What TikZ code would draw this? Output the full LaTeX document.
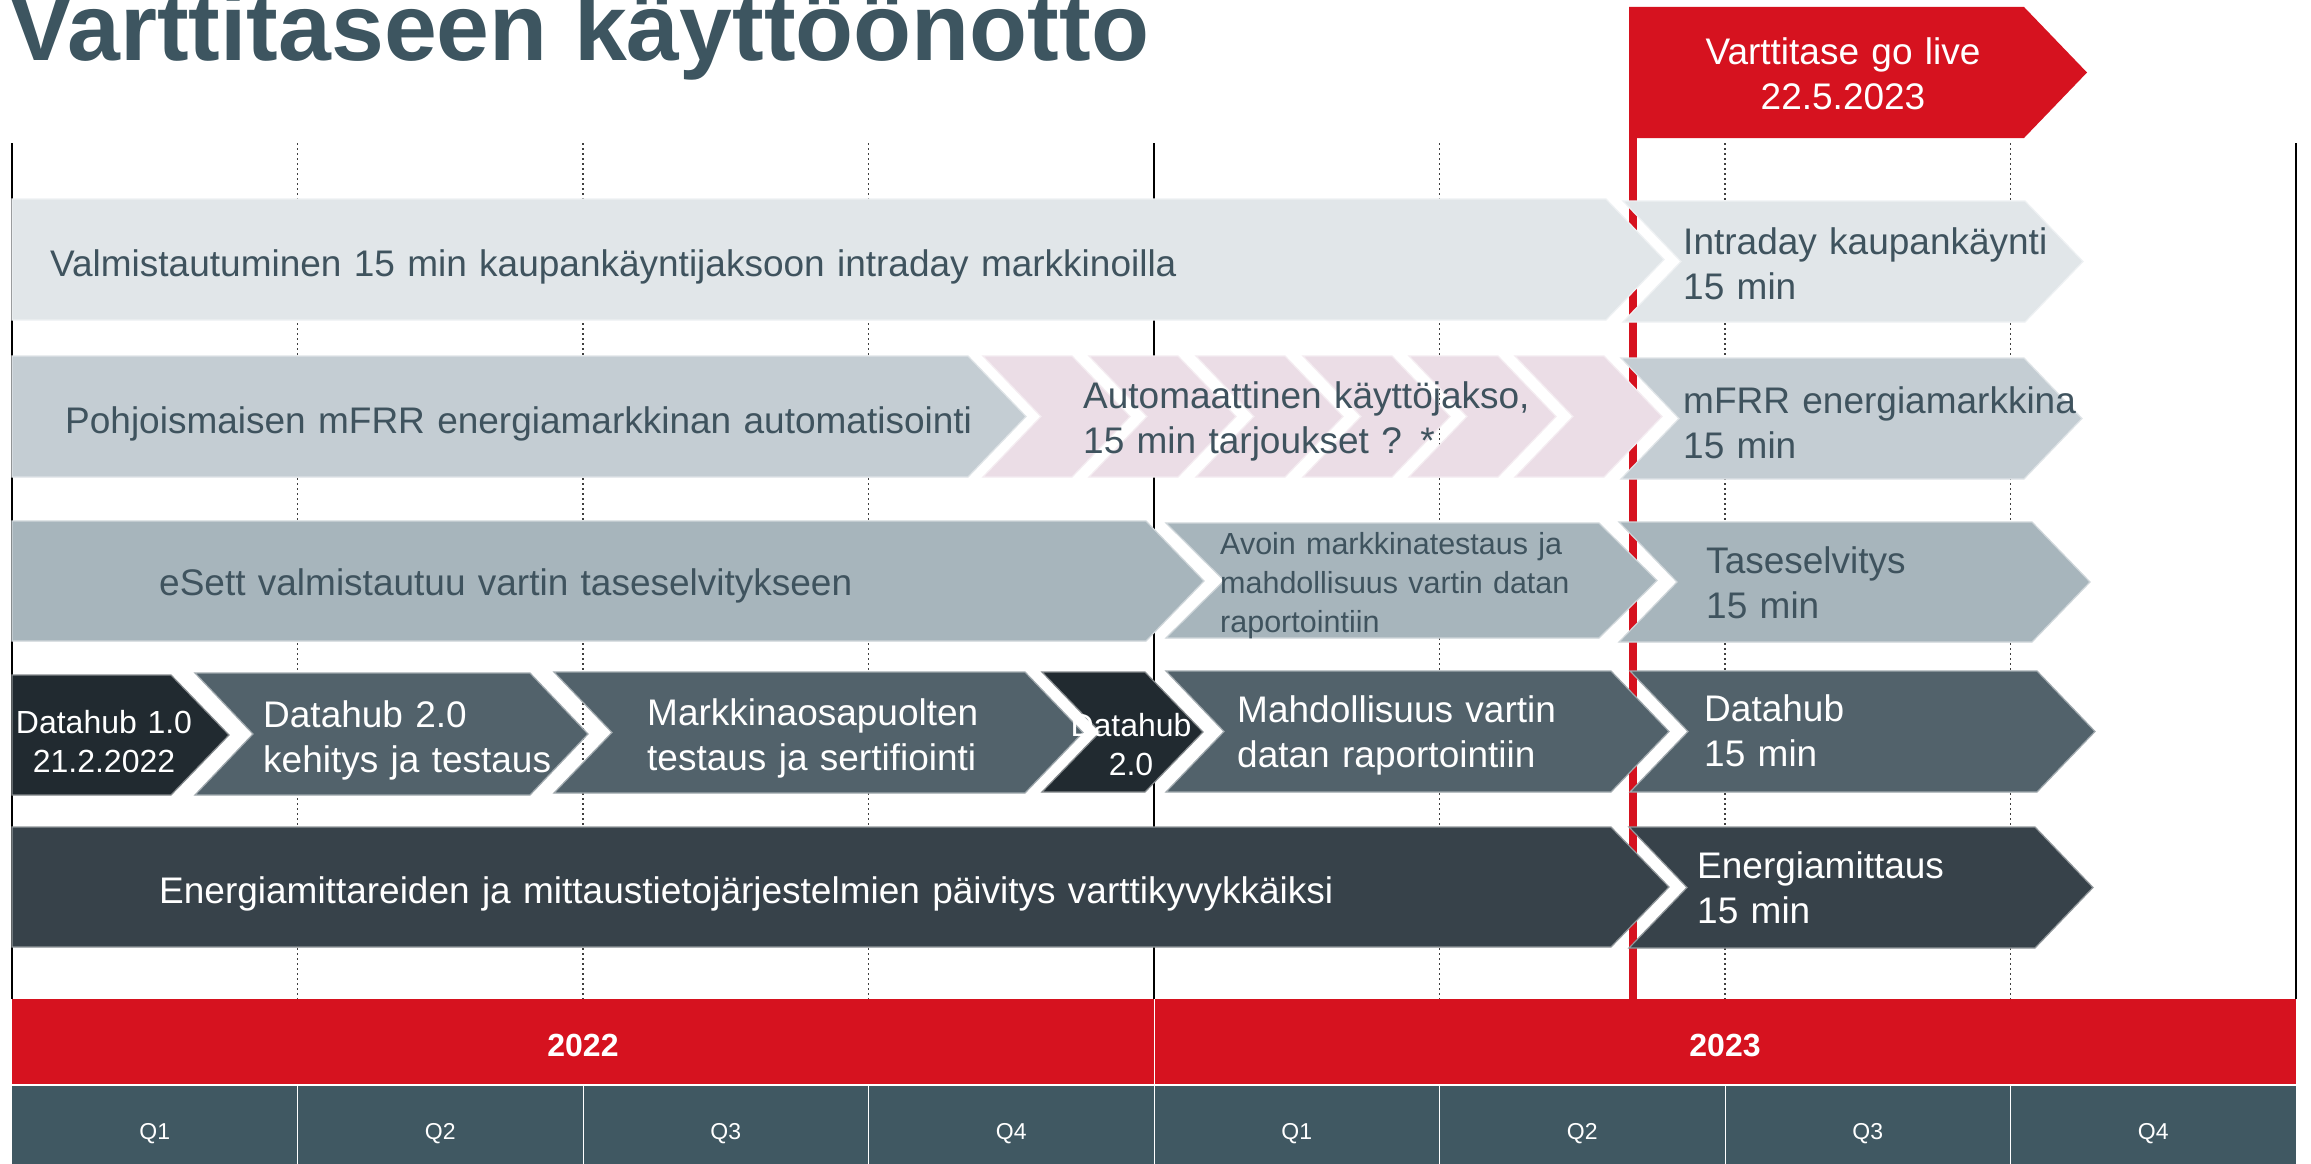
\documentclass[tikz,border=0pt]{standalone}
\usepackage{fontspec}
\setmainfont{Liberation Sans}
\definecolor{titlec}{HTML}{3D5560}
\definecolor{txtc}{HTML}{3F535E}
\definecolor{rowA}{HTML}{E1E6E9}
\definecolor{rowB}{HTML}{C4CDD3}
\definecolor{pinkc}{HTML}{EBDDE6}
\definecolor{rowC}{HTML}{A7B5BC}
\definecolor{rowD}{HTML}{52626B}
\definecolor{darkc}{HTML}{212A30}
\definecolor{rowE}{HTML}{37424A}
\definecolor{redc}{HTML}{D6121F}
\definecolor{qbandc}{HTML}{405862}
\def\dd{58}
% home plate: style, x left, x body right, y top, y bottom
\newcommand\mkhome[5]{\path[#1] (#2,#4) -- (#3,#4) -- ({#3+\dd},{(#4+#5)/2}) -- (#3,#5) -- (#2,#5) -- cycle;}
% chevron with notch: style, x left, x body right, y top, y bottom
\newcommand\mkchev[5]{\path[#1] (#2,#4) -- (#3,#4) -- ({#3+\dd},{(#4+#5)/2}) -- (#3,#5) -- (#2,#5) -- ({#2+\dd},{(#4+#5)/2}) -- cycle;}
\tikzset{
  shp/.style={fill=#1, draw=#1!55!white, line width=1.2pt},
  gridsolid/.style={draw=black, line width=1.2pt},
  griddot/.style={draw=black!75, line width=1.2pt, dash pattern=on 2pt off 3pt},
  lt/.style={font=\fontsize{37}{45}\selectfont, text=txtc, inner sep=0pt, anchor=base west, align=left, text width=1200pt},
  wt/.style={lt, text=white},
  smallt/.style={font=\fontsize{30.5}{39}\selectfont, text=txtc, inner sep=0pt, anchor=base west, align=left, text width=500pt},
  ctrw/.style={font=\fontsize{32}{39}\selectfont, text=white, inner sep=0pt, anchor=base, align=center, text width=260pt},
  yeart/.style={font=\fontsize{32}{38}\selectfont\bfseries, text=white, inner sep=0pt, anchor=base},
  qt/.style={font=\fontsize{23}{28}\selectfont, text=white, inner sep=0pt, anchor=base},
}
\begin{document}
\begin{tikzpicture}[x=1pt,y=-1pt]
\useasboundingbox (0,0) rectangle (2311,1164);
\fill[white] (0,0) rectangle (2311,1164);
\clip (0,0) rectangle (2311,1164);

% grid lines
\foreach \gx in {12,1154,2296} {\draw[gridsolid] (\gx,143) -- (\gx,999);}
\foreach \gx in {297.5,583,868.5,1439.5,1725,2010.5} {\draw[griddot] (\gx,143) -- (\gx,999);}

% red go-live line (behind the bars)
\fill[redc] (1629,7) rectangle (1637,999);

% title
\node[font=\fontsize{95}{110}\selectfont\bfseries, text=titlec, inner sep=0pt, anchor=base west] (title) at (9,61) {Varttitaseen käyttöönotto};

% go live arrow
\path[fill=redc] (1629,7) -- (2024,7) -- (2087,72.5) -- (2024,138) -- (1629,138) -- cycle;
\node[ctrw, font=\fontsize{37}{45}\selectfont, text width=400pt] (golive) at (1843,65) {Varttitase go live\\22.5.2023};

% row 1
\mkhome{shp=rowA}{12}{1606}{199}{320}
\mkchev{shp=rowA}{1623}{2025}{201}{322}
% row 2
\mkhome{shp=rowB}{12}{968}{356}{477}
\foreach \px in {983,1089,1196,1303,1409,1515} {\mkchev{shp=pinkc}{\px}{\px+89}{356}{477}}
\mkchev{shp=rowB}{1621}{2024}{358}{479}
% row 3
\mkhome{shp=rowC}{12}{1146}{521}{641}
\mkchev{shp=rowC}{1166}{1599}{523}{638}
\mkchev{shp=rowC}{1619}{2032}{522}{642}
% row 4
\mkhome{shp=darkc}{12}{171}{675}{795}
\mkchev{shp=rowD}{195}{530}{673}{795}
\mkchev{shp=rowD}{554}{1025}{672}{793}
\mkchev{shp=darkc}{1042}{1145}{672}{792}
\mkchev{shp=rowD}{1166}{1611}{671}{792}
\mkchev{shp=rowD}{1630}{2037}{671}{792}
% row 5
\mkhome{shp=rowE}{12}{1611}{827}{947}
\mkchev{shp=rowE}{1629}{2035}{827}{948}

% texts
\node[lt] (r1a) at (50,276) {Valmistautuminen 15 min kaupankäyntijaksoon intraday markkinoilla};
\node[lt] (r1b) at (1683,254) {Intraday kaupankäynti\\15 min};
\node[lt] (r2a) at (65,433) {Pohjoismaisen mFRR energiamarkkinan automatisointi};
\node[lt] (r2b) at (1083,408) {Automaattinen käyttöjakso,\\15 min tarjoukset ? *};
\node[lt] (r2c) at (1683,413) {mFRR energiamarkkina\\15 min};
\node[lt] (r3a) at (159,595) {eSett valmistautuu vartin taseselvitykseen};
\node[smallt] (r3b) at (1220,554) {Avoin markkinatestaus ja\\mahdollisuus vartin datan\\raportointiin};
\node[lt] (r3c) at (1706,573) {Taseselvitys\\15 min};
\node[ctrw] (r4a) at (104,733) {Datahub 1.0\\21.2.2022};
\node[wt] (r4b) at (263,727) {Datahub 2.0\\kehitys ja testaus};
\node[wt] (r4c) at (647,725) {Markkinaosapuolten\\testaus ja sertifiointi};
\node[ctrw] (r4d) at (1131,736) {Datahub\\2.0};
\node[wt] (r4e) at (1237,722) {Mahdollisuus vartin\\datan raportointiin};
\node[wt] (r4f) at (1704,721) {Datahub\\15 min};
\node[wt] (r5a) at (159,903) {Energiamittareiden ja mittaustietojärjestelmien päivitys varttikyvykkäiksi};
\node[wt] (r5b) at (1697,878) {Energiamittaus\\15 min};

% year band
\fill[redc] (12,999) rectangle (2296,1084);
\draw[white, line width=1pt] (1154,999) -- (1154,1084);
\node[yeart] (y2022) at (583,1056) {2022};
\node[yeart] (y2023) at (1725,1056) {2023};

% quarter band
\fill[qbandc] (12,1086) rectangle (2296,1164);
\foreach \gx in {297.5,583,868.5,1154,1439.5,1725,2010.5} {\draw[white, line width=1pt] (\gx,1086) -- (\gx,1164);}
\foreach \qx/\ql/\qn in {154.75/Q1/qa,440.25/Q2/qb,725.75/Q3/qc,1011.25/Q4/qd,1296.75/Q1/qe,1582.25/Q2/qf,1867.75/Q3/qg,2153.25/Q4/qh} {\node[qt] (\qn) at (\qx,1139) {\ql};}
\end{tikzpicture}
\end{document}
